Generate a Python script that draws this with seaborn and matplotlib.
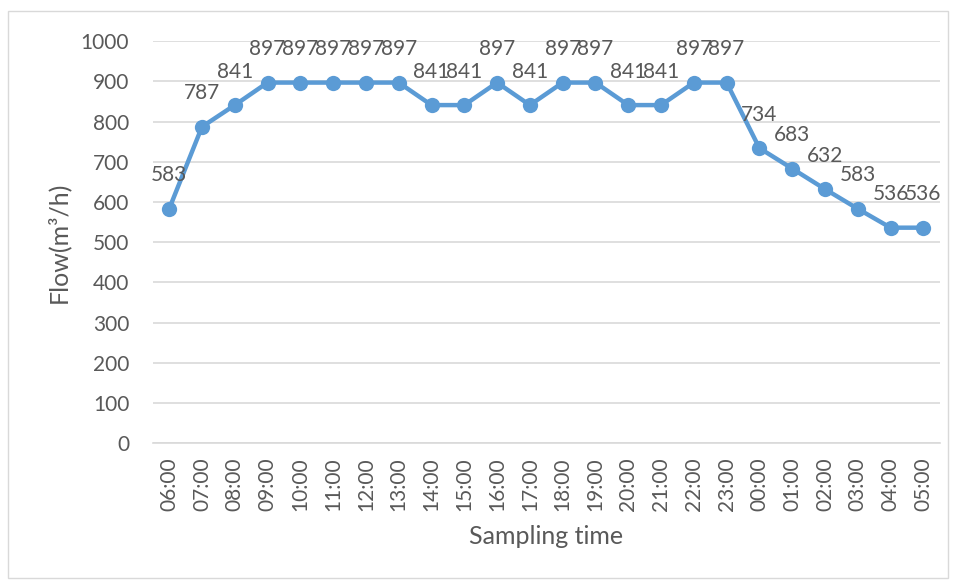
import matplotlib
matplotlib.use("Agg")
import matplotlib.pyplot as plt
import seaborn as sns
import pandas as pd
from matplotlib.patches import Rectangle

times = ["06:00", "07:00", "08:00", "09:00", "10:00", "11:00", "12:00", "13:00",
         "14:00", "15:00", "16:00", "17:00", "18:00", "19:00", "20:00", "21:00",
         "22:00", "23:00", "00:00", "01:00", "02:00", "03:00", "04:00", "05:00"]
flow = [583, 787, 841, 897, 897, 897, 897, 897,
        841, 841, 897, 841, 897, 897, 841, 841,
        897, 897, 734, 683, 632, 583, 536, 536]
y_ticks = [0, 100, 200, 300, 400, 500, 600, 700, 800, 900, 1000]

sns.set_theme(style="white")
plt.rcParams['font.family'] = ['Lato', 'DejaVu Sans']

GRAY = "#595959"
BLUE = "#5B9BD5"
FS = 15
FS_TITLE = 18

df = pd.DataFrame({"pos": range(len(times)), "time": times, "flow": flow})

fig = plt.figure(figsize=(9.55, 5.8), dpi=100)
ax = fig.add_axes([0.160, 0.236, 0.824, 0.693])

sns.lineplot(data=df, x="pos", y="flow", ax=ax, color=BLUE, linewidth=3.2,
             marker="o", markersize=11, markeredgewidth=0, sort=False, zorder=3)

for x, y in zip(df["pos"], df["flow"]):
    ax.annotate(str(y), (x, y), xytext=(0, 24), textcoords="offset points",
                ha="center", va="center", fontsize=FS, color=GRAY, zorder=4)

ax.set_xlim(-0.5, len(times) - 0.5)
ax.set_ylim(0, 1000)
ax.set_yticks(y_ticks)
ax.set_yticklabels([str(v) for v in y_ticks], fontsize=FS, color=GRAY)
ax.set_xticks(list(range(len(times))))
ax.set_xticklabels(times, rotation=90, fontsize=FS, color=GRAY)
ax.tick_params(axis="y", length=0, pad=17)
ax.tick_params(axis="x", length=0, pad=10)

ax.grid(axis="y", color="#D9D9D9", linewidth=1.2)
ax.set_axisbelow(True)
for s in ["top", "right", "left"]:
    ax.spines[s].set_visible(False)
ax.spines["bottom"].set_color("#D9D9D9")
ax.spines["bottom"].set_linewidth(1.2)

ax.set_xlabel("Sampling time", fontsize=FS_TITLE, color=GRAY, labelpad=10)
ax.set_ylabel("Flow(m³/h)", fontsize=FS_TITLE, color=GRAY, labelpad=8)

fig.patches.append(Rectangle((8 / 955, 2 / 580), 940 / 955, 567 / 580,
                             transform=fig.transFigure, fill=False,
                             edgecolor="#D9D9D9", linewidth=1.0))

fig.savefig("out.png", dpi=100)
